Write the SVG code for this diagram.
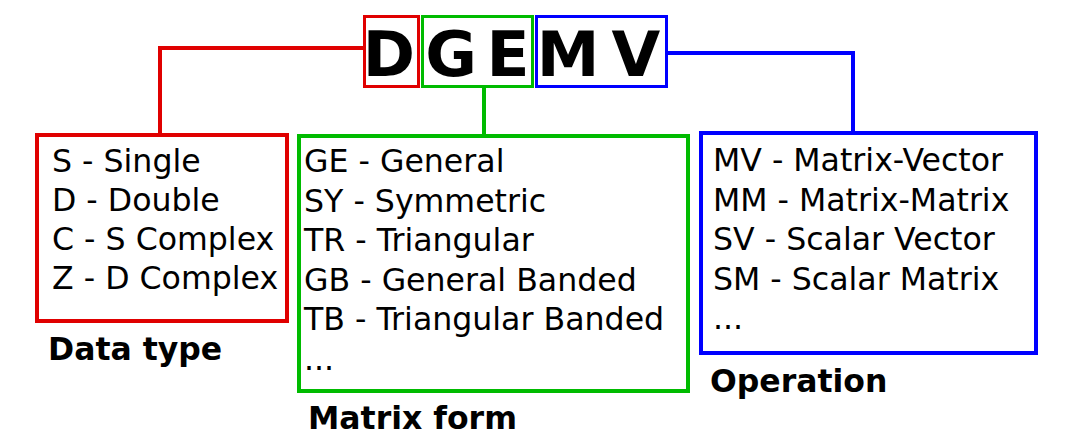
<svg xmlns="http://www.w3.org/2000/svg" width="1075" height="437" viewBox="0 0 1075 437">
<style>
.t{font-family:"DejaVu Sans",sans-serif;font-size:31.6px;fill:#000}
.lab{font-family:"DejaVu Sans",sans-serif;font-size:31.5px;font-weight:bold;fill:#000}
.big{font-family:"DejaVu Sans",sans-serif;font-size:63px;font-weight:bold;fill:#000;text-anchor:middle}
.sb{fill:none;stroke-width:3}
.bb{fill:#fff;stroke-width:4}
.red{stroke:#e00000}
.green{stroke:#00bb00}
.blue{stroke:#0000ff}
.c{fill:none;stroke-width:4}
</style>
<rect width="1075" height="437" fill="#fff"/>
<g id="connectors">
<polyline class="c red" points="365,48 160,48 160,135"/>
<polyline class="c green" points="484,87 484,136"/>
<polyline class="c blue" points="666,53 853,53 853,133"/>
</g>
<g id="code">
<rect class="sb red" x="364.5" y="16.5" width="54" height="70"/>
<rect class="sb green" x="422.5" y="16.5" width="110" height="70"/>
<rect class="sb blue" x="536.5" y="16.5" width="130" height="70"/>
<text class="big" x="389" y="76">D</text>
<text class="big" x="451" y="76">G</text>
<text class="big" x="508" y="76">E</text>
<text class="big" x="568" y="76">M</text>
<text class="big" x="636" y="76">V</text>
</g>
<g id="datatype">
<rect class="bb red" x="37" y="135" width="250" height="186"/>
<text class="t" x="52" y="172">S - Single</text>
<text class="t" x="52" y="211">D - Double</text>
<text class="t" x="52" y="250">C - S Complex</text>
<text class="t" x="52" y="289">Z - D Complex</text>
<text class="lab" x="48" y="360">Data type</text>
</g>
<g id="matrixform">
<rect class="bb green" x="299" y="136" width="389" height="255"/>
<text class="t" x="304" y="172">GE - General</text>
<text class="t" x="304" y="211.5">SY - Symmetric</text>
<text class="t" x="304" y="251">TR - Triangular</text>
<text class="t" x="304" y="290.5">GB - General Banded</text>
<text class="t" x="304" y="330">TB - Triangular Banded</text>
<text class="t" x="304" y="369.5">...</text>
<text class="lab" x="308" y="429">Matrix form</text>
</g>
<g id="operation">
<rect class="bb blue" x="701" y="133" width="335" height="220"/>
<text class="t" x="713" y="171">MV - Matrix-Vector</text>
<text class="t" x="713" y="210.5">MM - Matrix-Matrix</text>
<text class="t" x="713" y="250">SV - Scalar Vector</text>
<text class="t" x="713" y="289.5">SM - Scalar Matrix</text>
<text class="t" x="713" y="329">...</text>
<text class="lab" x="710" y="392">Operation</text>
</g>
</svg>
